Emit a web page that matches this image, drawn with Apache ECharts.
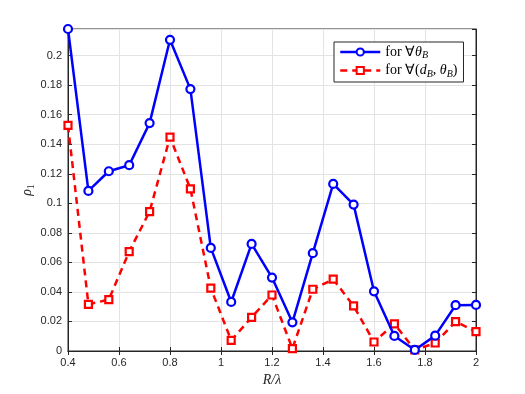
<!DOCTYPE html>
<html>
<head>
<meta charset="utf-8">
<script src="https://cdn.jsdelivr.net/npm/echarts@6/dist/echarts.min.js"></script>
<style>
  html, body { margin: 0; padding: 0; background: #fff; }
  #chart { width: 525px; height: 394px; }
</style>
</head>
<body>
<div id="chart"></div>
<script>
// R/lambda sample points
var ratio = [0.4, 0.48, 0.56, 0.64, 0.72, 0.8, 0.88, 0.96, 1.04, 1.12, 1.2,
             1.28, 1.36, 1.44, 1.52, 1.6, 1.68, 1.76, 1.84, 1.92, 2.0];
// rho_1 for all theta_B
var rhoTheta = [0.218, 0.1084, 0.1217, 0.1258, 0.1543, 0.2107, 0.1773, 0.0698, 0.0332, 0.0725, 0.0497,
                0.0194, 0.0662, 0.1131, 0.0991, 0.0404, 0.0102, 0.0007, 0.0104, 0.031, 0.0312];
// rho_1 for all (d_B, theta_B)
var rhoBoth = [0.1527, 0.0316, 0.0348, 0.0673, 0.0944, 0.1448, 0.1098, 0.0425, 0.0072, 0.0228, 0.0379,
               0.0016, 0.0418, 0.0486, 0.0305, 0.0061, 0.0183, 0.0007, 0.0054, 0.0199, 0.0131];

function pairs(xs, ys) {
  return xs.map(function (x, i) { return [x, ys[i]]; });
}

var chart = echarts.init(document.getElementById('chart'));
var serif = 'Liberation Serif';

var option = {
  animation: false,
  grid: { left: 68, right: 49, top: 29, bottom: 43, show: true, borderColor: '#262626', borderWidth: 1 },
  legend: {
    left: 334, top: 42,
    orient: 'vertical',
    backgroundColor: '#fff',
    borderColor: '#262626', borderWidth: 1,
    padding: [3, 6, 3, 5],
    itemGap: 3,
    itemWidth: 40, itemHeight: 9,
    lineStyle: { width: 2.5 },
    textStyle: {
      fontFamily: serif, fontSize: 14, color: '#000',
      rich: {
        n: { fontFamily: serif, fontSize: 14 },
        i: { fontFamily: serif, fontSize: 14, fontStyle: 'italic' },
        s: { fontFamily: serif, fontSize: 10, fontStyle: 'italic', padding: [7, 0, 0, 0] }
      }
    },
    formatter: function (name) {
      if (name === 'a') return '{n|for ∀}{i|θ}{s|B}';
      return '{n|for ∀(}{i|d}{s|B}{n|, }{i|θ}{s|B}{n|)}';
    },
    data: ['a', 'b']
  },
  xAxis: [{
    type: 'value', min: 0.4, max: 2, interval: 0.2,
    name: 'R/λ', nameLocation: 'middle', nameGap: 22,
    nameTextStyle: { fontFamily: serif, fontSize: 14, fontStyle: 'italic', color: '#262626' },
    axisLine: { lineStyle: { color: '#262626' } },
    axisTick: { inside: true, length: 4, lineStyle: { color: '#262626' } },
    axisLabel: {
      margin: 6, fontSize: 11, color: '#262626', fontFamily: 'Liberation Sans',
      formatter: function (v) { return String(Math.round(v * 10) / 10); }
    },
    splitLine: { show: true, lineStyle: { color: '#e3e3e3' } }
  }, {
    type: 'value', position: 'top', min: 0.4, max: 2, interval: 0.2,
    axisLine: { lineStyle: { color: '#262626' } },
    axisTick: { inside: true, length: 4, lineStyle: { color: '#262626' } },
    axisLabel: { show: false }, splitLine: { show: false }
  }],
  yAxis: [{
    type: 'value', min: 0, max: 0.218, interval: 0.02,
    name: '{i|ρ}{s|1}', nameLocation: 'middle', nameGap: 32, nameRotate: 90,
    nameMoveOverlap: false,
    nameTextStyle: {
      color: '#262626',
      rich: {
        i: { fontFamily: serif, fontSize: 14, fontStyle: 'italic' },
        s: { fontFamily: serif, fontSize: 10, padding: [7, 0, 0, 0] }
      }
    },
    axisLine: { lineStyle: { color: '#262626' } },
    axisTick: { inside: true, length: 4, lineStyle: { color: '#262626' } },
    axisLabel: {
      margin: 6, fontSize: 11, color: '#262626', fontFamily: 'Liberation Sans', showMaxLabel: false,
      formatter: function (v) { return String(Math.round(v * 100) / 100); }
    },
    splitLine: { show: true, lineStyle: { color: '#e3e3e3' } }
  }, {
    type: 'value', position: 'right', min: 0, max: 0.218, interval: 0.02,
    axisLine: { lineStyle: { color: '#262626' } },
    axisTick: { inside: true, length: 4, lineStyle: { color: '#262626' } },
    axisLabel: { show: false }, splitLine: { show: false }
  }],
  series: [{
    name: 'a', type: 'line',
    data: pairs(ratio, rhoTheta),
    symbol: 'circle', symbolSize: 8, showAllSymbol: true,
    lineStyle: { color: '#0000ff', width: 2.5 },
    itemStyle: { color: '#fff', borderColor: '#0000ff', borderWidth: 2.2 },
    z: 3
  }, {
    name: 'b', type: 'line',
    data: pairs(ratio, rhoBoth),
    symbol: 'rect', symbolSize: 7, showAllSymbol: true,
    lineStyle: { color: '#ff0000', width: 2.5, type: [7, 5] },
    itemStyle: { color: '#fff', borderColor: '#ff0000', borderWidth: 2.2 },
    z: 2
  }]
};
chart.setOption(option);
</script>
</body>
</html>
